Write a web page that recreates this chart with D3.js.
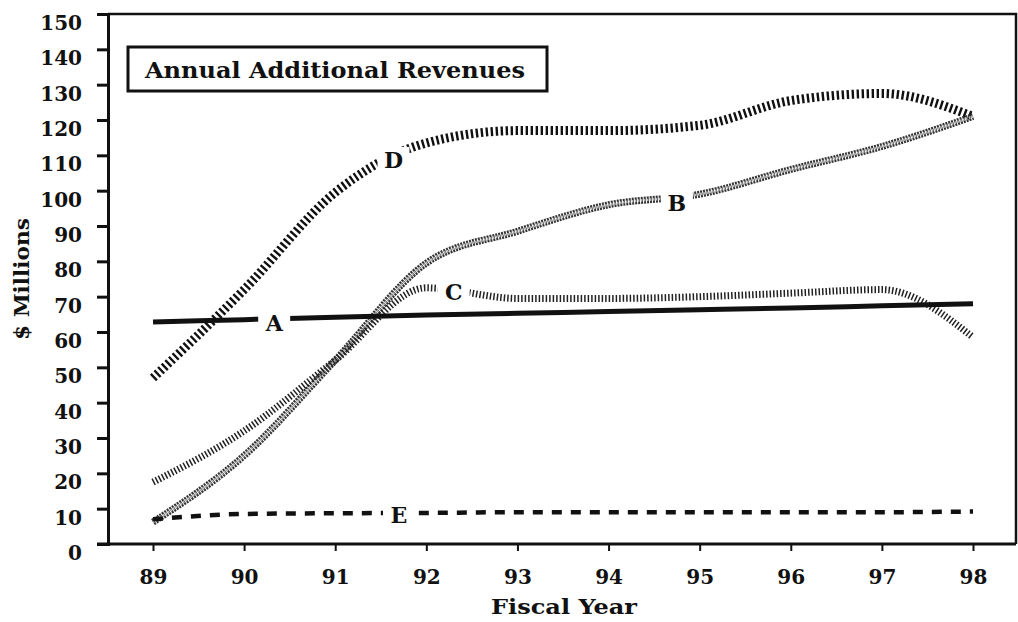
<!DOCTYPE html>
<html>
<head>
<meta charset="utf-8">
<script src="https://cdn.jsdelivr.net/npm/d3@7"></script>
<style>
  html, body { margin: 0; padding: 0; background: #fff; }
  svg { display: block; }
  text { font-family: "DejaVu Serif", "Liberation Serif", serif; font-weight: bold; fill: #111; }
</style>
</head>
<body>
<svg id="chart" width="1018" height="622"></svg>
<script>
// ---- data ----
const years = [89, 90, 91, 92, 93, 94, 95, 96, 97, 98];
const seriesA = [62.8, 63.5, 64.2, 64.8, 65.3, 65.8, 66.3, 66.8, 67.4, 68];
const seriesB = [6.2, 25, 52, 79.5, 88.5, 96, 99, 106, 112.5, 121];
const seriesC = [17.5, 32, 52, 72.5, 69.5, 69.5, 70, 71, 72, 58.5];
const seriesD = [47, 72, 99.5, 113.5, 117, 117, 118.5, 125.5, 127.5, 121];
const seriesE = [7, 8.5, 8.7, 8.8, 9, 9, 9, 9, 9, 9.2];
const yTicks = [0, 10, 20, 30, 40, 50, 60, 70, 80, 90, 100, 110, 120, 130, 140, 150];
const seriesLabels = ["A", "B", "C", "D", "E"];
const labelYears = [90.33, 94.75, 92.3, 91.64, 91.7];
const labelValues = [62.5, 96.5, 71.3, 108.7, 8.2];
const chartTitle = "Annual Additional Revenues";
const xTitle = "Fiscal Year";
const yTitle = "$ Millions";

// ---- layout ----
const svg = d3.select("#chart");
const mLeft = 108, mRight = 1016, mTop = 14, mBottom = 544;

const x = d3.scaleLinear().domain([89, 98]).range([153, 973]);
const y = d3.scaleLinear().domain([0, 150]).range([mBottom, mTop]);

// frame (top + right borders)
svg.append("path")
  .attr("d", `M${mLeft},${mTop} H${mRight} V${mBottom}`)
  .attr("fill", "none").attr("stroke", "#111").attr("stroke-width", 2.5);

// y axis
const yAxis = svg.append("g")
  .attr("transform", `translate(${mLeft},0)`)
  .call(d3.axisLeft(y).tickValues(yTicks).tickSize(11).tickPadding(15));
yAxis.select(".domain").attr("stroke", "#111").attr("stroke-width", 3);
yAxis.selectAll(".tick line").attr("stroke", "#111").attr("stroke-width", 3);
yAxis.selectAll(".tick text")
  .attr("font-family", "DejaVu Serif").attr("font-weight", "bold")
  .attr("font-size", 20).attr("fill", "#111").attr("dy", "0.78em");

// x axis
const xAxis = svg.append("g")
  .attr("transform", `translate(0,${mBottom})`)
  .call(d3.axisBottom(x).tickValues(years).tickSize(7).tickPadding(19).tickFormat(d3.format("d")));
xAxis.select(".domain").attr("d", `M97,0H${mRight}`).attr("stroke", "#111").attr("stroke-width", 3);
xAxis.selectAll(".tick line").attr("stroke", "#111").attr("stroke-width", 2);
xAxis.selectAll(".tick text")
  .attr("font-family", "DejaVu Serif").attr("font-weight", "bold")
  .attr("font-size", 20).attr("fill", "#111");

// axis titles
svg.append("text").attr("x", 564).attr("y", 614).attr("text-anchor", "middle")
  .attr("font-size", 21).attr("textLength", 146).attr("lengthAdjust", "spacingAndGlyphs").text(xTitle);
svg.append("text").attr("transform", "translate(29,279) rotate(-90)")
  .attr("text-anchor", "middle").attr("font-size", 20)
  .attr("textLength", 122).attr("lengthAdjust", "spacingAndGlyphs").text(yTitle);

// title box
svg.append("rect").attr("x", 128).attr("y", 47).attr("width", 419).attr("height", 44)
  .attr("fill", "#fff").attr("stroke", "#111").attr("stroke-width", 3);
svg.append("text").attr("x", 335).attr("y", 78).attr("text-anchor", "middle")
  .attr("font-size", 22).attr("textLength", 380).attr("lengthAdjust", "spacingAndGlyphs").text(chartTitle);

// ---- lines ----
const line = d3.line().x((d, i) => x(years[i])).y(d => y(d)).curve(d3.curveMonotoneX);
const g = svg.append("g");

// D: heavy hatched rope
g.append("path").attr("d", line(seriesD)).attr("fill", "none")
  .attr("stroke", "#111").attr("stroke-width", 9).attr("stroke-dasharray", "2.4,2.6");
// B: gray double line
g.append("path").attr("d", line(seriesB)).attr("fill", "none")
  .attr("stroke", "#333").attr("stroke-width", 7).attr("stroke-dasharray", "2,1");
g.append("path").attr("d", line(seriesB)).attr("fill", "none")
  .attr("stroke", "#bbb").attr("stroke-width", 2.5).attr("stroke-dasharray", "1.5,1.5");
// C: thin hatched
g.append("path").attr("d", line(seriesC)).attr("fill", "none")
  .attr("stroke", "#222").attr("stroke-width", 7).attr("stroke-dasharray", "1.5,2");
// A: solid
g.append("path").attr("d", line(seriesA)).attr("fill", "none")
  .attr("stroke", "#111").attr("stroke-width", 5);
// E: dashed
g.append("path").attr("d", line(seriesE)).attr("fill", "none")
  .attr("stroke", "#111").attr("stroke-width", 4.5).attr("stroke-dasharray", "10,9");

// series labels with white gap behind
const lab = svg.append("g");
seriesLabels.forEach((t, i) => {
  const cx = x(labelYears[i]), cy = y(labelValues[i]);
  lab.append("rect").attr("x", cx - 16).attr("y", cy - 13).attr("width", 32).attr("height", 26)
    .attr("fill", "#fff");
  lab.append("text").attr("x", cx).attr("y", cy).attr("dy", "0.36em")
    .attr("text-anchor", "middle").attr("font-size", 22).text(t);
});
</script>
</body>
</html>
